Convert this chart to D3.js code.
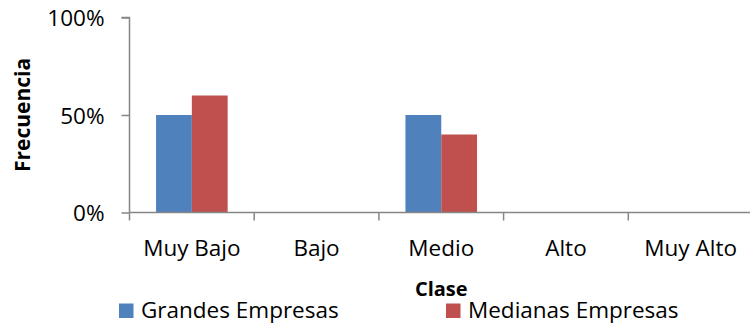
<!DOCTYPE html>
<html>
<head>
<meta charset="utf-8">
<script src="https://cdn.jsdelivr.net/npm/d3@7/dist/d3.min.js"></script>
<style>
html,body{margin:0;padding:0;background:#fff;}
svg{display:block;}
text{font-family:"Open Sans","Noto Sans",sans-serif;fill:#000;}
</style>
</head>
<body>
<svg id="chart" width="750" height="330"></svg>
<script>
const categories = ["Muy Bajo", "Bajo", "Medio", "Alto", "Muy Alto"];
const seriesNames = ["Grandes Empresas", "Medianas Empresas"];
const grandes = [0.5, 0, 0.5, 0, 0];
const medianas = [0.6, 0, 0.4, 0, 0];
const yTicks = [0, 0.5, 1];
const colors = ["#4F81BD", "#C0504D"];

const svg = d3.select("#chart");
const mLeft = 129.5, mRight = 753, mTop = 17.5, mBottom = 212.5;

const x0 = d3.scaleBand().domain(categories).range([mLeft, mRight]).padding(0);
const bw = x0.bandwidth();
const x1 = d3.scaleBand().domain(seriesNames).range([bw * 0.213, bw * 0.787]).padding(0);
const y = d3.scaleLinear().domain([0, 1]).range([mBottom, mTop]);

const data = categories.map((c, i) => ({cat: c, vals: [grandes[i], medianas[i]]}));

// bars
const g = svg.append("g");
data.forEach(d => {
  d.vals.forEach((v, j) => {
    if (v <= 0) return;
    g.append("rect")
      .attr("x", x0(d.cat) + x1(seriesNames[j]))
      .attr("y", y(v))
      .attr("width", x1.bandwidth())
      .attr("height", y(0) - y(v))
      .attr("fill", colors[j]);
  });
});

const axisColor = "#868686";

// y axis
const yAxis = d3.axisLeft(y).tickValues(yTicks).tickFormat(d3.format(".0%")).tickSize(8).tickPadding(17);
const ya = svg.append("g").attr("transform", `translate(${mLeft},0)`).call(yAxis);
ya.select(".domain").attr("stroke", axisColor).attr("stroke-width", 1.5).attr("d", `M-8,${mTop}H0V${mBottom}`);
ya.selectAll(".tick line").attr("stroke", axisColor).attr("stroke-width", 1.5);
ya.selectAll(".tick text").attr("font-size", "22.5px").attr("font-family", "'Open Sans','Noto Sans',sans-serif").attr("fill", "#000").attr("dy", "0.36em");

// x axis
const ticksX = categories.map(c => x0(c)).concat([mRight]);
const xg = svg.append("g");
xg.append("line").attr("x1", mLeft).attr("x2", 750).attr("y1", mBottom).attr("y2", mBottom)
  .attr("stroke", axisColor).attr("stroke-width", 1.5);
xg.selectAll("line.tk").data(ticksX).enter().append("line").attr("class", "tk")
  .attr("x1", d => d).attr("x2", d => d).attr("y1", mBottom).attr("y2", mBottom + 8)
  .attr("stroke", axisColor).attr("stroke-width", 1.5);
xg.selectAll("text.cl").data(categories).enter().append("text").attr("class", "cl")
  .attr("x", d => x0(d) + bw / 2).attr("y", 256)
  .attr("text-anchor", "middle").attr("font-size", "22.5px").text(d => d);

// axis titles
svg.append("text").attr("x", (mLeft + mRight) / 2).attr("y", 296).attr("text-anchor", "middle")
  .attr("font-size", "20px").attr("font-weight", "bold").text("Clase");
svg.append("text").attr("transform", "translate(30,115) rotate(-90)").attr("text-anchor", "middle")
  .attr("font-size", "21px").attr("font-weight", "bold").text("Frecuencia");

// legend
const legX = [119, 446];
seriesNames.forEach((s, j) => {
  svg.append("rect").attr("x", legX[j]).attr("y", 303.5).attr("width", 14.5).attr("height", 14.5).attr("fill", colors[j]);
  svg.append("text").attr("x", legX[j] + 22).attr("y", 318).attr("font-size", "22.5px").text(s);
});
</script>
</body>
</html>
